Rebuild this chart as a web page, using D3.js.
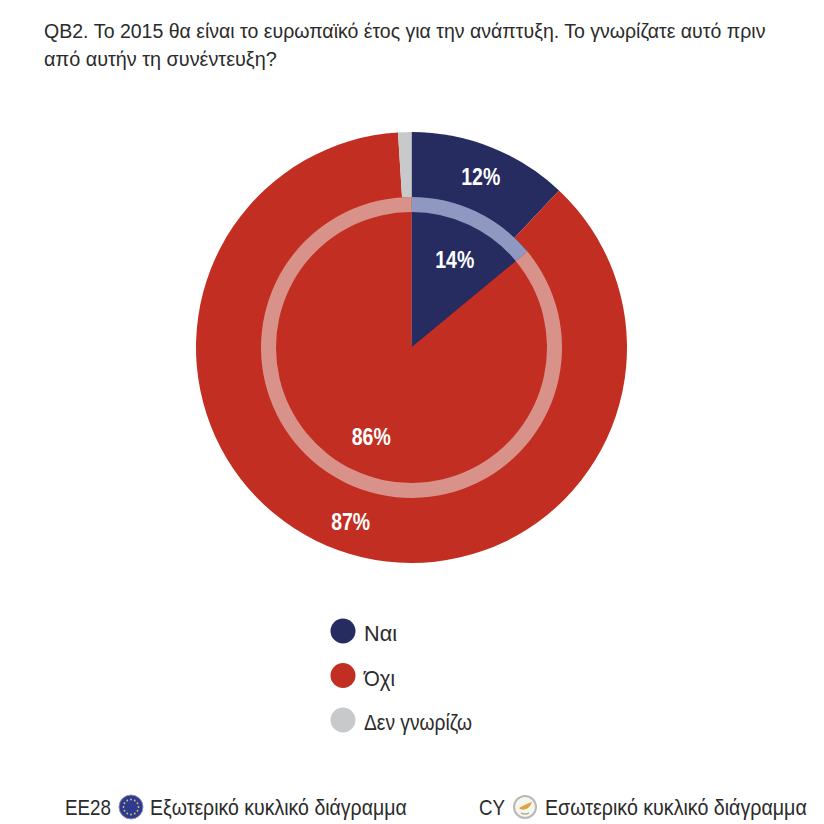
<!DOCTYPE html>
<html><head><meta charset="utf-8">
<script src="https://cdn.jsdelivr.net/npm/d3@7"></script>
<style>html,body{margin:0;padding:0;background:#fff}svg{display:block}text{font-family:"Liberation Sans",Arial,sans-serif}</style>
</head><body><div id="c"></div>
<script>
const titleLines = ["QB2. Το 2015 θα είναι το ευρωπαϊκό έτος για την ανάπτυξη. Το γνωρίζατε αυτό πριν","από αυτήν τη συνέντευξη?"];
const titleWidths = [722,233];
const categories = ["Ναι","Όχι","Δεν γνωρίζω"];
const legendWidths = [33,31,108];
const outerValues = [12,87,1];
const innerValues = [14,86,0];
const colors = ["#262b60","#c22e22","#c8c9cb"];
const ringColors = ["#8f98c0","#d8928a","#e3e3e4"];
const outerName = "Εξωτερικό κυκλικό διάγραμμα";
const innerName = "Εσωτερικό κυκλικό διάγραμμα";

const W=824,H=824,cx=411.5,cy=347.5;
const svg=d3.select("#c").append("svg").attr("width",W).attr("height",H);

// squeeze a text horizontally to the given width, anchored at x,y
function fit(sel,x,y,w){
  sel.each(function(d,i){
    const len=this.getComputedTextLength();
    const X=typeof x==="function"?x(d,i):x, Y=typeof y==="function"?y(d,i):y, W_=typeof w==="function"?w(d,i):w;
    d3.select(this).attr("transform",`translate(${X},${Y}) scale(${W_/len},1)`);
  });
}

svg.append("g").selectAll("text").data(titleLines).join("text")
  .attr("font-size",20.5).attr("fill","#2b2b2b").text(d=>d)
  .call(fit,44,(d,i)=>38+i*28,(d,i)=>titleWidths[i]);

const pie=d3.pie().sort(null).value(d=>d);
const color=d3.scaleOrdinal().domain(d3.range(3)).range(colors);
const ring=d3.scaleOrdinal().domain(d3.range(3)).range(ringColors);
const root=svg.append("g").attr("transform",`translate(${cx},${cy})`);
function drawPie(values,r,labelR){
  const arcs=pie(values);
  const arc=d3.arc().innerRadius(0).outerRadius(r);
  root.append("g").selectAll("path").data(arcs).join("path").attr("d",arc).attr("fill",(d,i)=>color(i));
  return {arcs,label:d3.arc().innerRadius(labelR).outerRadius(labelR)};
}
const o=drawPie(outerValues,215.5,184);
const inner=drawPie(innerValues,150.5,98);
root.append("g").selectAll("path").data(inner.arcs).join("path")
  .attr("d",d3.arc().innerRadius(135.5).outerRadius(150.5))
  .attr("fill",(d,i)=>ring(i));
[o,inner].forEach(p=>{
  root.append("g").selectAll("text").data(p.arcs.filter(d=>d.value>=5)).join("text")
    .attr("font-size",23).attr("font-weight","bold").attr("fill","#fff")
    .text(d=>d.value+"%")
    .each(function(d){
      const [x,y]=p.label.centroid(d), len=this.getComputedTextLength();
      d3.select(this).attr("transform",`translate(${x-18},${y+9}) scale(${39/len},1)`);
    });
});

// legend
const leg=svg.append("g").selectAll("g").data(categories).join("g")
  .attr("transform",(d,i)=>`translate(343,${631+i*44.5})`);
leg.append("circle").attr("r",12.5).attr("fill",(d,i)=>color(i));
leg.append("text").attr("font-size",22.5).attr("fill","#2b2b2b").text(d=>d)
  .call(fit,21,10,(d,i)=>legendWidths[i]);

// footer
const footItems=[["EE28",65,46],[outerName,150,257],["CY",479,26],[innerName,545,262]];
svg.append("g").selectAll("text").data(footItems).join("text")
  .attr("font-size",22.5).attr("fill","#2b2b2b").text(d=>d[0])
  .call(fit,d=>d[1],815,d=>d[2]);

// EU flag badge
const eu=svg.append("g").attr("transform","translate(131,807)");
eu.append("circle").attr("r",12).attr("fill","#2f3a8f").attr("stroke","#8a8fb5").attr("stroke-width",1);
eu.selectAll("circle.s").data(d3.range(12)).join("circle").attr("class","s")
  .attr("cx",d=>7.5*Math.cos(d*Math.PI/6)).attr("cy",d=>7.5*Math.sin(d*Math.PI/6))
  .attr("r",0.9).attr("fill","#cfc96a");
// CY flag badge
const cyb=svg.append("g").attr("transform","translate(525,807)");
cyb.append("circle").attr("r",11).attr("fill","#f6f5ef").attr("stroke","#b9b9b4").attr("stroke-width",2);
cyb.append("path").attr("d","M-6,1 C-3,-1 0,-2 2,-3 C4,-4 6,-5 7,-5 C6,-2 4,1 1,2 C-2,3 -4,3 -6,1 Z").attr("fill","#e0a040");
cyb.append("path").attr("d","M-4,6 Q0,8 4,6").attr("fill","none").attr("stroke","#a9b98c").attr("stroke-width",1.5);
</script></body></html>
